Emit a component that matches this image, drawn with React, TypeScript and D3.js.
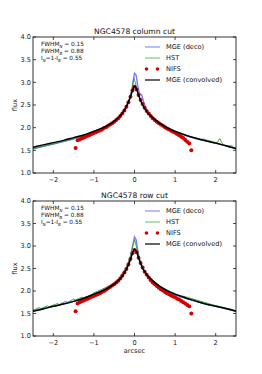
import * as d3 from 'd3';

// MGE (convolved) - black
const convX = [-2.5, -2.25, -2.0, -1.75, -1.5, -1.25, -1.0, -0.8, -0.6, -0.4, -0.3, -0.2, -0.1, -0.05, 0, 0.05, 0.1, 0.2, 0.3, 0.4, 0.6, 0.8, 1.0, 1.25, 1.5, 1.75, 2.0, 2.25, 2.5];
const convColY = [1.57, 1.62, 1.67, 1.72, 1.78, 1.84, 1.92, 1.99, 2.08, 2.22, 2.32, 2.47, 2.68, 2.82, 2.92, 2.86, 2.72, 2.5, 2.36, 2.26, 2.11, 2.0, 1.92, 1.84, 1.77, 1.71, 1.66, 1.6, 1.54];
const convRowY = [1.55, 1.6, 1.66, 1.71, 1.77, 1.84, 1.93, 2.0, 2.09, 2.23, 2.33, 2.48, 2.7, 2.84, 2.93, 2.88, 2.74, 2.51, 2.37, 2.27, 2.12, 2.01, 1.93, 1.85, 1.78, 1.71, 1.66, 1.61, 1.55];

// MGE (deco) - blue
const decoX = [-2.5, -2.0, -1.5, -1.0, -0.6, -0.4, -0.2, -0.1, -0.05, 0, 0.04, 0.08, 0.12, 0.18, 0.22, 0.3, 0.4, 0.6, 1.0, 1.5, 2.0, 2.5];
const decoColY = [1.54, 1.64, 1.75, 1.9, 2.06, 2.2, 2.44, 2.68, 2.92, 3.2, 3.16, 2.92, 2.76, 2.72, 2.58, 2.38, 2.26, 2.1, 1.9, 1.76, 1.66, 1.54];
const decoRowY = [1.56, 1.66, 1.77, 1.92, 2.09, 2.24, 2.5, 2.75, 2.98, 3.2, 3.14, 2.9, 2.72, 2.56, 2.48, 2.36, 2.25, 2.1, 1.91, 1.77, 1.66, 1.55];

// HST - green
const hstColX = [-2.5, -2.0, -1.5, -1.2, -1.0, -0.6, -0.4, -0.2, -0.1, -0.05, -0.02, 0.02, 0.06, 0.1, 0.15, 0.2, 0.3, 0.4, 0.6, 1.0, 1.5, 1.6, 1.7, 1.8, 1.9, 2.0, 2.05, 2.1, 2.15, 2.2, 2.3, 2.4, 2.45, 2.5];
const hstColY = [1.53, 1.64, 1.76, 1.83, 1.9, 2.07, 2.2, 2.45, 2.7, 2.9, 3.1, 3.0, 2.85, 2.72, 2.62, 2.53, 2.38, 2.26, 2.1, 1.9, 1.77, 1.74, 1.75, 1.72, 1.7, 1.67, 1.68, 1.76, 1.67, 1.62, 1.6, 1.6, 1.56, 1.53];
const hstRowX = [-2.5, -2.35, -2.3, -2.15, -2.1, -1.9, -1.85, -1.7, -1.65, -1.5, -1.45, -1.3, -1.25, -1.1, -1.0, -0.8, -0.6, -0.4, -0.2, -0.1, -0.05, 0, 0.05, 0.1, 0.2, 0.3, 0.4, 0.6, 1.0, 1.3, 1.6, 1.9, 2.2, 2.4, 2.5];
const hstRowY = [1.57, 1.63, 1.61, 1.67, 1.65, 1.72, 1.7, 1.77, 1.75, 1.82, 1.8, 1.86, 1.85, 1.9, 1.96, 2.04, 2.12, 2.26, 2.52, 2.78, 2.98, 3.14, 2.98, 2.76, 2.5, 2.37, 2.27, 2.12, 1.93, 1.86, 1.78, 1.7, 1.63, 1.59, 1.56];

// NIFS - red dots
const nifsX = [-1.40, -1.35, -1.30, -1.25, -1.20, -1.15, -1.10, -1.05, -1.00, -0.95, -0.90, -0.85, -0.80, -0.75, -0.70, -0.65, -0.60, -0.55, -0.50, -0.45, -0.40, -0.35, -0.30, -0.25, -0.20, -0.15, -0.10, -0.05, 0.00, 0.05, 0.10, 0.15, 0.20, 0.25, 0.30, 0.35, 0.40, 0.45, 0.50, 0.55, 0.60, 0.65, 0.70, 0.75, 0.80, 0.85, 0.90, 0.95, 1.00, 1.05, 1.10, 1.15, 1.20, 1.25, 1.30, 1.35, -1.45, 1.40];
const nifsColY = [1.72, 1.74, 1.76, 1.78, 1.80, 1.82, 1.84, 1.86, 1.88, 1.90, 1.92, 1.94, 1.96, 1.99, 2.01, 2.04, 2.07, 2.10, 2.13, 2.17, 2.21, 2.26, 2.31, 2.38, 2.46, 2.56, 2.68, 2.82, 2.90, 2.84, 2.72, 2.61, 2.52, 2.44, 2.37, 2.31, 2.26, 2.21, 2.17, 2.13, 2.10, 2.07, 2.04, 2.01, 1.98, 1.96, 1.93, 1.91, 1.89, 1.86, 1.83, 1.80, 1.77, 1.73, 1.69, 1.65, 1.55, 1.50];
const nifsRowY = [1.72, 1.75, 1.77, 1.79, 1.81, 1.83, 1.85, 1.87, 1.89, 1.91, 1.93, 1.95, 1.98, 2.00, 2.03, 2.06, 2.09, 2.12, 2.15, 2.19, 2.23, 2.28, 2.34, 2.41, 2.49, 2.59, 2.71, 2.84, 2.91, 2.86, 2.74, 2.62, 2.52, 2.43, 2.36, 2.30, 2.24, 2.19, 2.15, 2.11, 2.07, 2.04, 2.01, 1.98, 1.95, 1.93, 1.90, 1.88, 1.86, 1.83, 1.81, 1.78, 1.75, 1.72, 1.69, 1.66, 1.55, 1.50];

const xTicks = [-2, -1, 0, 1, 2];
const yTicks = [1.0, 1.5, 2.0, 2.5, 3.0, 3.5, 4.0];

const W = 262;
const H = 374;
const left = 33;
const right = 236;
const font = 'DejaVu Sans, sans-serif';

type Pt = [number, number];
const zip = (xs: number[], ys: number[]): Pt[] => xs.map((x, i) => [x, ys[i]]);

function Panel({ top, bottom, title, conv, deco, hst, nifs, xlabel, subN }: {
  top: number; bottom: number; title: string;
  conv: Pt[]; deco: Pt[]; hst: Pt[]; nifs: Pt[]; xlabel: boolean; subN: [string, string];
}) {
  const x = d3.scaleLinear().domain([-2.5, 2.5]).range([left, right]);
  const y = d3.scaleLinear().domain([1.0, 4.0]).range([bottom, top]);
  const line = d3.line<Pt>().x((d) => x(d[0])).y((d) => y(d[1])).curve(d3.curveMonotoneX);
  const lineL = d3.line<Pt>().x((d) => x(d[0])).y((d) => y(d[1]));
  const fmt = d3.format('.1f');
  const midX = (left + right) / 2;
  const lx = 145;
  const ly = top + 10;
  const fs = 6.6;
  return (
    <g fontFamily={font}>
      <defs>
        <clipPath id={`clip${top}`}>
          <rect x={left} y={top} width={right - left} height={bottom - top} />
        </clipPath>
      </defs>
      <g clipPath={`url(#clip${top})`}>
        <path d={lineL(deco) || ''} fill="none" stroke="#4d4dff" strokeOpacity={0.75} strokeWidth={1.4} />
        <path d={lineL(hst) || ''} fill="none" stroke="#2ca02c" strokeWidth={0.9} />
        {nifs.map((d, i) => (
          <circle key={i} cx={x(d[0])} cy={y(d[1])} r={2} fill="#d40000" />
        ))}
        <path d={line(conv) || ''} fill="none" stroke="#000" strokeWidth={1.5} />
      </g>
      <rect x={left} y={top} width={right - left} height={bottom - top} fill="none" stroke="#000" strokeWidth={0.8} />
      {xTicks.map((t) => (
        <g key={t}>
          <line x1={x(t)} x2={x(t)} y1={bottom} y2={bottom - 3} stroke="#000" strokeWidth={0.7} />
          <line x1={x(t)} x2={x(t)} y1={top} y2={top + 3} stroke="#000" strokeWidth={0.7} />
          <text x={x(t)} y={bottom + 9} fontSize={fs} textAnchor="middle" fill="#222">
            {t < 0 ? `\u2212${-t}` : t}
          </text>
        </g>
      ))}
      {yTicks.map((t) => (
        <g key={t}>
          <line x1={left} x2={left + 3} y1={y(t)} y2={y(t)} stroke="#000" strokeWidth={0.7} />
          <line x1={right} x2={right - 3} y1={y(t)} y2={y(t)} stroke="#000" strokeWidth={0.7} />
          <text x={left - 2} y={y(t) + 2.4} fontSize={fs} textAnchor="end" fill="#222">
            {fmt(t)}
          </text>
        </g>
      ))}
      <text x={midX} y={top - 3} fontSize={7.6} textAnchor="middle" fill="#111">{title}</text>
      <text transform={`translate(${17},${(top + bottom) / 2}) rotate(-90)`} fontSize={fs} textAnchor="middle" fill="#222">flux</text>
      {xlabel && (
        <text x={midX} y={bottom + 17} fontSize={fs} textAnchor="middle" fill="#222">arcsec</text>
      )}
      {/* annotation */}
      <g fontSize={5.8} fill="#111">
        <text x={41} y={top + 9}>FWHM<tspan fontSize={4} fontStyle="italic" dy={1.5}>N</tspan><tspan dy={-1.5}> = 0.15</tspan></text>
        <text x={41} y={top + 16}>FWHM<tspan fontSize={4} fontStyle="italic" dy={1.5}>B</tspan><tspan dy={-1.5}> = 0.88</tspan></text>
        <text x={41} y={top + 23}>I<tspan fontSize={4} fontStyle="italic" dy={1.5}>{subN[0]}</tspan><tspan dy={-1.5}>=1-I</tspan><tspan fontSize={4} fontStyle="italic" dy={1.5}>{subN[1]}</tspan><tspan dy={-1.5}> = 0.55</tspan></text>
      </g>
      {/* legend */}
      <g fontSize={fs} fill="#111">
        <line x1={lx} x2={lx + 15} y1={ly} y2={ly} stroke="#4d4dff" strokeOpacity={0.5} strokeWidth={1.5} />
        <text x={lx + 21} y={ly + 2.4}>MGE (deco)</text>
        <line x1={lx} x2={lx + 15} y1={ly + 11} y2={ly + 11} stroke="#2ca02c" strokeOpacity={0.8} strokeWidth={0.9} />
        <text x={lx + 21} y={ly + 13.4}>HST</text>
        <circle cx={lx + 1.5} cy={ly + 22} r={1.8} fill="#d40000" />
        <circle cx={lx + 12.5} cy={ly + 22} r={1.8} fill="#d40000" />
        <text x={lx + 21} y={ly + 24.4}>NIFS</text>
        <line x1={lx} x2={lx + 15} y1={ly + 33} y2={ly + 33} stroke="#000" strokeWidth={1.2} />
        <text x={lx + 21} y={ly + 35.4}>MGE (convolved)</text>
      </g>
    </g>
  );
}

export default function App() {
  return (
    <svg width={W} height={H} style={{ position: 'absolute', left: 0, top: 0, background: '#fff' }}>
      <Panel top={37} bottom={173} title="NGC4578  column cut"
        conv={zip(convX, convColY)} deco={zip(decoX, decoColY)} hst={zip(hstColX, hstColY)}
        nifs={zip(nifsX, nifsColY)} xlabel={false} subN={['N', 'B']} />
      <Panel top={201} bottom={336} title="NGC4578  row cut"
        conv={zip(convX, convRowY)} deco={zip(decoX, decoRowY)} hst={zip(hstRowX, hstRowY)}
        nifs={zip(nifsX, nifsRowY)} xlabel={true} subN={['N', 'B']} />
    </svg>
  );
}
